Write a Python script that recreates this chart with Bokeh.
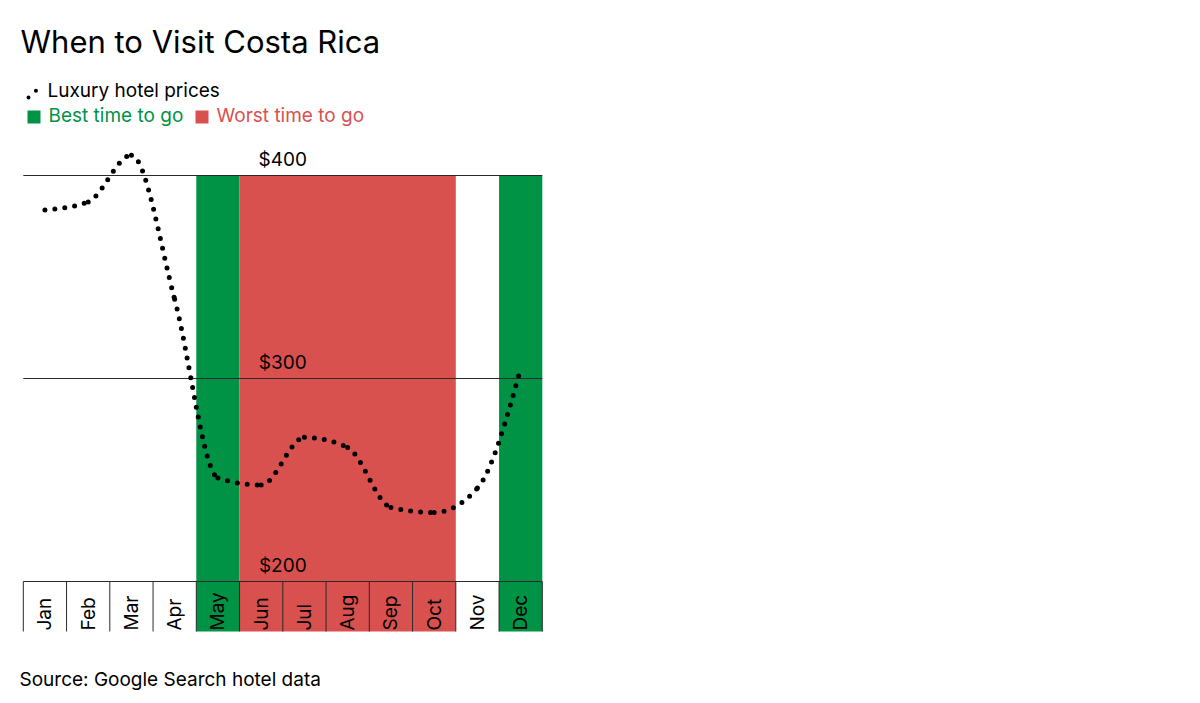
import numpy as np
from bokeh.plotting import figure
from bokeh.models import Range1d, Label
from bokeh.core.properties import value
from bokeh.embed import file_html
from bokeh.resources import INLINE

# ---------------- data ----------------
months = ["Jan", "Feb", "Mar", "Apr", "May", "Jun", "Jul", "Aug", "Sep", "Oct", "Nov", "Dec"]
prices = [383, 387, 410, 339, 251, 247.5, 271, 266, 236.5, 234, 246, 305]
best_months = ["May", "Dec"]
worst_months = ["Jun", "Jul", "Aug", "Sep", "Oct"]
price_ticks = [200, 300, 400]
tick_labels = ["$200", "$300", "$400"]

title_text = "When to Visit Costa Rica"
legend_line = "Luxury hotel prices"
legend_best = "Best time to go"
legend_worst = "Worst time to go"
source_text = "Source: Google Search hotel data"

# ---------------- layout / style ----------------
W, H = 560, 700
X0, MW = 22.8, 43.25      # page px of Jan left edge, px per month
Y200, PPD = 581.0, 2.03   # page px of $200, px per dollar
GREEN = "#009245"
RED = "#d9514e"
FONT = "Inter"
BODY = 19
TITLE = 31


def dx(px):
    return (px - X0) / MW


def dy(py):
    return 200 + (Y200 - py) / PPD


def base(py, size):
    # baseline correction for the svg text rendering
    return dy(py - 0.36 * size)


BOX_BOTTOM = dy(631)
BOX_TOP = price_ticks[0]
BAND_TOP = price_ticks[-1]

p = figure(width=W, height=H, output_backend="svg", toolbar_location=None,
           x_range=Range1d(dx(0), dx(W)), y_range=Range1d(dy(H), dy(0)),
           x_axis_type=None, y_axis_type=None, min_border=0,
           background_fill_color="white", border_fill_color="white")
p.outline_line_color = None
p.grid.visible = False

# ---------------- bands ----------------
def runs(sel):
    idx = sorted(months.index(m) for m in sel)
    out = []
    for i in idx:
        if out and out[-1][1] == i:
            out[-1][1] = i + 1
        else:
            out.append([i, i + 1])
    return out


for sel, col in ((best_months, GREEN), (worst_months, RED)):
    r = runs(sel)
    p.quad(left=[a for a, b in r], right=[b for a, b in r],
           bottom=[BOX_BOTTOM] * len(r), top=[BAND_TOP] * len(r),
           fill_color=col, line_color=None)

# ---------------- grid lines ----------------
n = len(months)
p.segment(x0=[0] * 2, x1=[n] * 2, y0=price_ticks[1:], y1=price_ticks[1:],
          line_color="#2a2a2a", line_width=1)
p.text(x=[n / 2] * 3,
       y=[t + (9.5 + 0.36 * BODY) / PPD for t in price_ticks], text=tick_labels,
       text_align="center", text_baseline="alphabetic",
       text_font=value(FONT), text_font_size=f"{BODY}px", text_color="black")

# ---------------- month boxes ----------------
bounds = list(range(n + 1))
p.segment(x0=bounds, x1=bounds, y0=[BOX_BOTTOM] * len(bounds), y1=[BOX_TOP] * len(bounds),
          line_color="#2a2a2a", line_width=1)
p.segment(x0=[0], x1=[n], y0=[BOX_TOP], y1=[BOX_TOP], line_color="#2a2a2a", line_width=1)
xc = [i + 0.5 for i in range(n)]
p.text(x=xc, y=[dy(630)] * n, text=months, angle=np.pi / 2,
       text_align="left", text_baseline="middle",
       text_font=value(FONT), text_font_size=f"{BODY}px", text_color="black")

# ---------------- smooth price line (monotone cubic rendering) ----------------
xs = np.array(xc, dtype=float)
ys = np.array(prices, dtype=float)
h = np.diff(xs)
s = np.diff(ys) / h
m = np.zeros(n)
for i in range(1, n - 1):
    pp = (s[i - 1] * h[i] + s[i] * h[i - 1]) / (h[i - 1] + h[i])
    m[i] = (np.sign(s[i - 1]) + np.sign(s[i])) * min(abs(s[i - 1]), abs(s[i]), 0.5 * abs(pp))
m[0] = (3 * s[0] - m[1]) / 2
m[-1] = (3 * s[-1] - m[-2]) / 2
p.bezier(x0=xs[:-1], y0=ys[:-1], x1=xs[1:], y1=ys[1:],
         cx0=xs[:-1] + h / 3, cy0=ys[:-1] + m[:-1] * h / 3,
         cx1=xs[1:] - h / 3, cy1=ys[1:] - m[1:] * h / 3,
         line_color="black", line_width=5, line_dash="0 10", line_cap="round")

# ---------------- title / legend / source ----------------
p.add_layout(Label(x=dx(20), y=base(52, TITLE), text=title_text, text_font=FONT,
                   text_font_size=f"{TITLE}px", text_color="black", text_baseline="alphabetic"))
p.segment(x0=[dx(28)], y0=[dy(97)], x1=[dx(38)], y1=[dy(88)],
          line_color="black", line_width=4, line_dash="0 10", line_cap="round")
p.add_layout(Label(x=dx(47), y=base(96.5, BODY), text=legend_line, text_font=FONT,
                   text_font_size=f"{BODY}px", text_color="black", text_baseline="alphabetic"))
p.quad(left=[dx(27), dx(195)], right=[dx(40), dx(208)],
       top=[dy(110), dy(110)], bottom=[dy(123), dy(123)],
       fill_color=[GREEN, RED], line_color=None)
p.add_layout(Label(x=dx(48), y=base(122, BODY), text=legend_best, text_font=FONT,
                   text_font_size=f"{BODY}px", text_color=GREEN, text_baseline="alphabetic"))
p.add_layout(Label(x=dx(216), y=base(122, BODY), text=legend_worst, text_font=FONT,
                   text_font_size=f"{BODY}px", text_color=RED, text_baseline="alphabetic"))
p.add_layout(Label(x=dx(19), y=base(686, BODY), text=source_text, text_font=FONT,
                   text_font_size=f"{BODY}px", text_color="black", text_baseline="alphabetic"))

open("out.html", "w").write(file_html(p, INLINE))
